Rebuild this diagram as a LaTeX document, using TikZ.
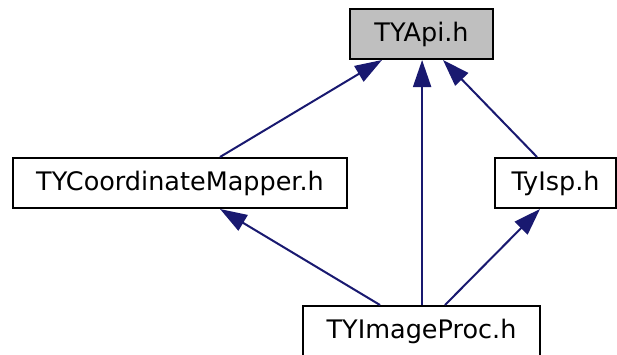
\documentclass[tikz,border=0pt]{standalone}
\usepackage{fontspec}
\setmainfont{DejaVu Sans}
\usetikzlibrary{arrows.meta}
\definecolor{edgeblue}{HTML}{191970}
\definecolor{apigray}{HTML}{BFBFBF}
\tikzset{
  filebox/.style={draw=black, line width=2pt, fill=white, inner sep=0pt,
    minimum height=50pt, text height=20.4pt, text depth=4.9pt,
    font=\fontsize{25.5pt}{30pt}\selectfont},
  dep/.style={draw=edgeblue, line width=2pt,
    -{Triangle[length=27pt,width=18pt]}, color=edgeblue}
}
\begin{document}
\begin{tikzpicture}[x=1pt,y=-1pt]
\useasboundingbox (0,0) rectangle (617,354);
\clip (0,0) rectangle (617,354);
\node[filebox, fill=apigray, minimum width=143pt] (api) at (421.5,34) {TYApi.h};
\node[filebox, minimum width=334pt] (cm) at (180,183) {TYCoordinateMapper.h};
\node[filebox, minimum width=121pt] (isp) at (555.5,183) {TyIsp.h};
\node[filebox, minimum width=237pt] (ip) at (421.5,331) {TYImageProc.h};
\draw[dep] ([xshift=40pt]cm.north) -- ([xshift=-39.5pt]api.south);
\draw[dep] ([xshift=0.6pt]ip.north) -- ([xshift=0.6pt]api.south);
\draw[dep] ([xshift=-18.5pt]isp.north) -- ([xshift=21.5pt]api.south);
\draw[dep] ([xshift=-41.5pt]ip.north) -- ([xshift=40pt]cm.south);
\draw[dep] ([xshift=23.5pt]ip.north) -- ([xshift=-15.5pt]isp.south);
\end{tikzpicture}
\end{document}
